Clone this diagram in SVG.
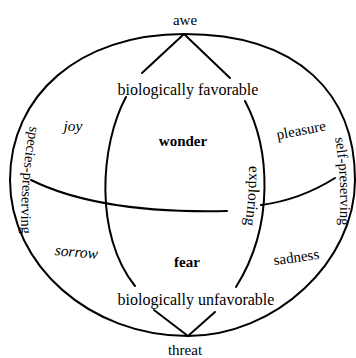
<svg xmlns="http://www.w3.org/2000/svg" width="356" height="358" viewBox="0 0 356 358">
<style>
.ln{fill:none;stroke:#000;stroke-width:2;stroke-linecap:round}
text{font-family:"Liberation Serif","Times New Roman",serif;fill:#000}
.lb{font-size:16px}
.bd{font-size:15px;font-weight:bold;text-anchor:middle}
.it{font-size:15.5px;font-style:italic;text-anchor:middle}
.rg{font-size:15px;text-anchor:middle}
.side{font-size:14.6px}
</style>
<defs>
<path id="pSpecies" d="M30,126 Q19,182 22,246"/>
<path id="pSelf" d="M335,138 Q343,185 339,234"/>
<path id="pExplore" d="M249,166 Q250,200 243,234"/>
</defs>
<rect width="356" height="358" fill="#fff"/>
<g id="outline">
<path class="ln" d="M184,34 C80,34 10,95 10,180 C10,265 90,336 188,336 C275,336 355,262 355,180 C355,95 300,34 184,34 Z"/>
</g>
<g id="connectors">
<path class="ln" d="M184,34 L142,73"/>
<path class="ln" d="M184,34 L230,78"/>
<path class="ln" d="M126,97 C100,145 94,235 135,286"/>
<path class="ln" d="M245,101 C270,148 275,225 236,287"/>
<path class="ln" d="M154,310 L188,336 L215,312"/>
<path class="ln" d="M31,180 Q100,214 227,211"/>
<path class="ln" d="M261,205 Q300,200 335,178"/>
</g>
<g id="awe"><text class="rg" x="185" y="25">awe</text></g>
<g id="favorable"><text class="lb" x="188" y="95" text-anchor="middle">biologically favorable</text></g>
<g id="unfavorable"><text class="lb" x="196" y="305" text-anchor="middle">biologically unfavorable</text></g>
<g id="threat"><text class="rg" x="185" y="355" font-size="14">threat</text></g>
<g id="wonder"><text class="bd" x="183" y="146">wonder</text></g>
<g id="fear"><text class="bd" x="187" y="267">fear</text></g>
<g id="joy"><text class="it" x="73" y="131">joy</text></g>
<g id="sorrow"><text class="it" x="76" y="257" transform="rotate(5 76 257)">sorrow</text></g>
<g id="pleasure"><text class="rg" x="302" y="135" transform="rotate(-11 302 135)">pleasure</text></g>
<g id="sadness"><text class="rg" x="297" y="262" transform="rotate(-8 297 262)">sadness</text></g>
<g id="species-preserving"><text class="side"><textPath href="#pSpecies">species-preserving</textPath></text></g>
<g id="self-preserving"><text class="side"><textPath href="#pSelf">self-preserving</textPath></text></g>
<g id="exploring"><text style="font-size:15.5px"><textPath href="#pExplore">exploring</textPath></text></g>
</svg>
